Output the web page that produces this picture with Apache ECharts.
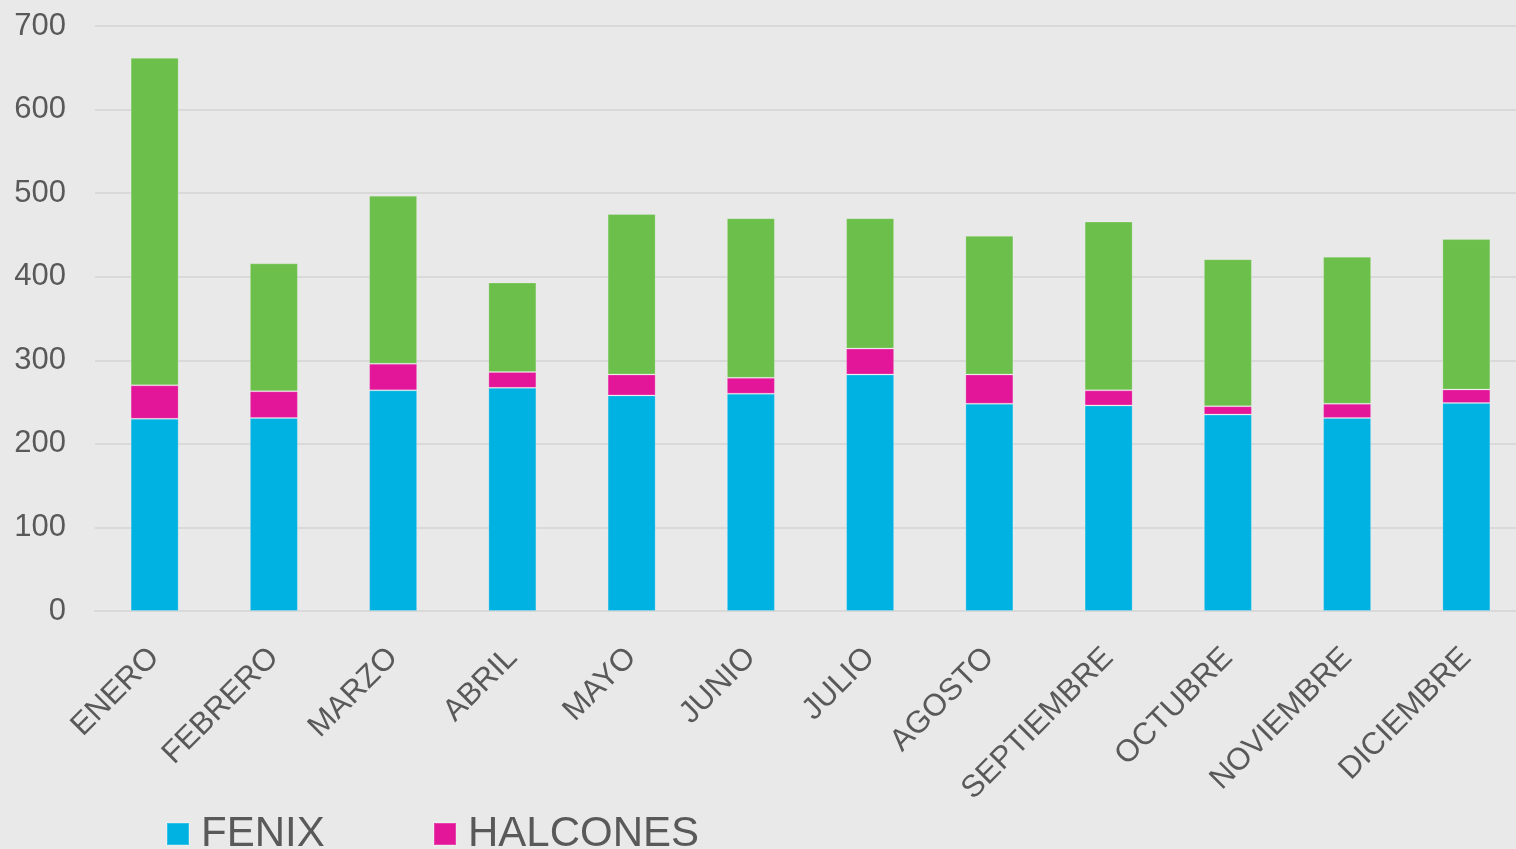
<!DOCTYPE html>
<html>
<head>
<meta charset="utf-8">
<script src="https://cdn.jsdelivr.net/npm/echarts@6/dist/echarts.min.js"></script>
<style>
html,body{margin:0;padding:0;background:#e9e9e9;overflow:hidden;}
#chart{width:1526px;height:849px;}
</style>
</head>
<body>
<div id="chart"></div>
<script>
var meses = ['ENERO','FEBRERO','MARZO','ABRIL','MAYO','JUNIO','JULIO','AGOSTO','SEPTIEMBRE','OCTUBRE','NOVIEMBRE','DICIEMBRE'];
var fenix    = [230,231,264,267,258,260,283,248,246,235,231,249];
var halcones = [40,32,32,19,25,19,31,35,18,10,17,16];
var otros    = [392,153,201,107,192,191,156,166,202,176,176,180];
var ticksY = [0,100,200,300,400,500,600,700];

var txt = '#595959';
var font = 'Liberation Sans, Arial, sans-serif';

// el area del grafico sigue un poco mas alla del borde derecho
var chart = echarts.init(document.getElementById('chart'));
var option = {
    backgroundColor: '#e9e9e9',
    animation: false,
    grid: { left: 95, right: 0, top: 26, bottom: 238, containLabel: false },
    legend: [
        {
            data: ['FENIX'], left: 161, top: 808,
            itemWidth: 22, itemHeight: 22, icon: 'rect',
            textStyle: { color: txt, fontSize: 42, fontFamily: font, padding: [0,0,0,7] }
        },
        {
            data: ['HALCONES'], left: 428, top: 808,
            itemWidth: 22, itemHeight: 22, icon: 'rect',
            textStyle: { color: txt, fontSize: 42, fontFamily: font, padding: [0,0,0,7] }
        }
    ],
    xAxis: {
        type: 'category',
        data: meses,
        axisLine: { lineStyle: { color: '#d9d9d9', width: 2 } },
        axisTick: { show: false },
        axisLabel: { rotate: 45, color: txt, fontSize: 31, fontFamily: font, margin: 42, interval: 0 }
    },
    yAxis: {
        type: 'value',
        min: ticksY[0], max: ticksY[ticksY.length - 1], interval: 100,
        axisLine: { show: false },
        axisTick: { show: false },
        splitLine: { lineStyle: { color: '#d9d9d9', width: 2 } },
        axisLabel: { color: txt, fontSize: 31, fontFamily: font, margin: 29 }
    },
    series: [
        { name: 'FENIX', type: 'bar', stack: 'a', data: fenix, barWidth: 48,
          itemStyle: { color: '#00b2e1', borderColor: 'rgba(255,255,255,0.2)', borderWidth: 1 } },
        { name: 'HALCONES', type: 'bar', stack: 'a', data: halcones, barWidth: 48,
          itemStyle: { color: '#e31598', borderColor: 'rgba(255,255,255,0.2)', borderWidth: 1 } },
        { name: 'OTROS', type: 'bar', stack: 'a', data: otros, barWidth: 48,
          itemStyle: { color: '#6cbf4b', borderColor: 'rgba(255,255,255,0.2)', borderWidth: 1 } }
    ]
};
chart.setOption(option);
</script>
</body>
</html>
